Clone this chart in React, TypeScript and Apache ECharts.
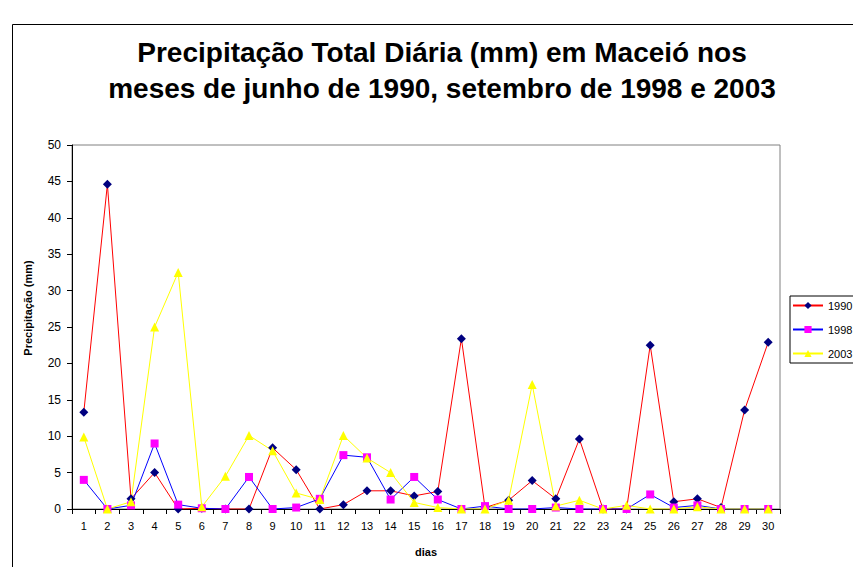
import React, { useEffect, useRef } from "react";
import * as echarts from "echarts";

const days = ["1","2","3","4","5","6","7","8","9","10","11","12","13","14","15","16","17","18","19","20","21","22","23","24","25","26","27","28","29","30"];
const s1990 = [13.3,44.6,1.4,5.0,0,0.1,0,0,8.4,5.4,0,0.6,2.5,2.5,1.8,2.4,23.4,0.2,1.2,3.9,1.4,9.6,0,0,22.5,1.0,1.4,0.2,13.6,22.9];
const s1998 = [4.0,0,0.5,9.0,0.6,0.1,0,4.4,0,0.2,1.4,7.4,7.1,1.3,4.4,1.3,0,0.4,0,0,0.2,0,0,0,2.0,0.2,0.5,0,0,0];
const s2003 = [9.9,0,1.0,25.0,32.5,0.3,4.5,10.1,8.0,2.2,1.3,10.1,7.0,5.0,0.9,0.2,0,0,1.2,17.1,0.4,1.2,0,0.5,0,0,0.3,0,0,0];
const titleLines = ["Precipitação Total Diária (mm) em Maceió nos", "meses de junho de 1990, setembro de 1998 e 2003"];
const yName = "Precipitação (mm)";
const xName = "dias";

export default function App() {
  const ref = useRef<HTMLDivElement>(null);
  useEffect(() => {
    const chart = echarts.init(ref.current!, null, { renderer: "svg" });
    const font = "Liberation Sans, Arial, sans-serif";
    chart.setOption({
      animation: false,
      backgroundColor: "#fff",
      textStyle: { fontFamily: font },
      title: {
        text: titleLines.join("\n"),
        left: 437,
        textAlign: "center",
        top: 29,
        textStyle: { fontSize: 28, fontWeight: "bold", color: "#000", lineHeight: 36, fontFamily: font },
      },
      graphic: [
        { type: "rect", left: 10, top: 22, shape: { width: 900, height: 600 }, style: { fill: "none", stroke: "#000", lineWidth: 1 }, z: -1 },
        {
          type: "text", x: 28, y: 308, rotation: Math.PI / 2,
          style: { text: yName, textAlign: "center", textVerticalAlign: "middle", fill: "#000", font: "bold 11px Liberation Sans, Arial, sans-serif" },
        },
      ],
      legend: {
        left: 790,
        top: 296,
        orient: "vertical",
        itemWidth: 30,
        itemHeight: 9,
        itemGap: 13,
        borderColor: "#000",
        borderWidth: 1,
        borderRadius: 0,
        padding: [4, 30, 4, 2],
        textStyle: { fontSize: 11, color: "#000", fontFamily: font },
        data: ["1990", "1998", "2003"],
      },
      grid: { left: 72, right: 73, top: 145, bottom: 58, show: true, borderColor: "#808080", borderWidth: 1 },
      xAxis: {
        type: "category",
        data: days,
        boundaryGap: true,
        name: xName,
        nameLocation: "middle",
        nameGap: 37,
        nameTextStyle: { fontSize: 11, fontWeight: "bold", color: "#000" },
        axisLine: { lineStyle: { color: "#000" } },
        axisTick: { show: true, alignWithLabel: false, length: 5, lineStyle: { color: "#000" } },
        axisLabel: { fontSize: 11, color: "#000", margin: 11 },
      },
      yAxis: {
        type: "value",
        min: 0,
        max: 50,
        interval: 5,
        axisLine: { show: true, lineStyle: { color: "#000" } },
        axisTick: { show: true, length: 5, lineStyle: { color: "#000" } },
        axisLabel: { fontSize: 12, color: "#000", margin: 11 },
        splitLine: { show: false },
      },
      series: [
        {
          name: "1990", type: "line", data: s1990,
          symbol: "diamond", symbolSize: 9,
          itemStyle: { color: "#000080" },
          lineStyle: { color: "#ff0000", width: 1 },
        },
        {
          name: "1998", type: "line", data: s1998,
          symbol: "rect", symbolSize: 8,
          itemStyle: { color: "#ff00ff" },
          lineStyle: { color: "#0000ff", width: 1 },
        },
        {
          name: "2003", type: "line", data: s2003,
          symbol: "triangle", symbolSize: 9,
          itemStyle: { color: "#ffff00" },
          lineStyle: { color: "#ffff00", width: 1 },
        },
      ],
    });
    return () => chart.dispose();
  }, []);
  return <div ref={ref} style={{ position: "absolute", left: 0, top: 0, width: 853, height: 567 }} />;
}
